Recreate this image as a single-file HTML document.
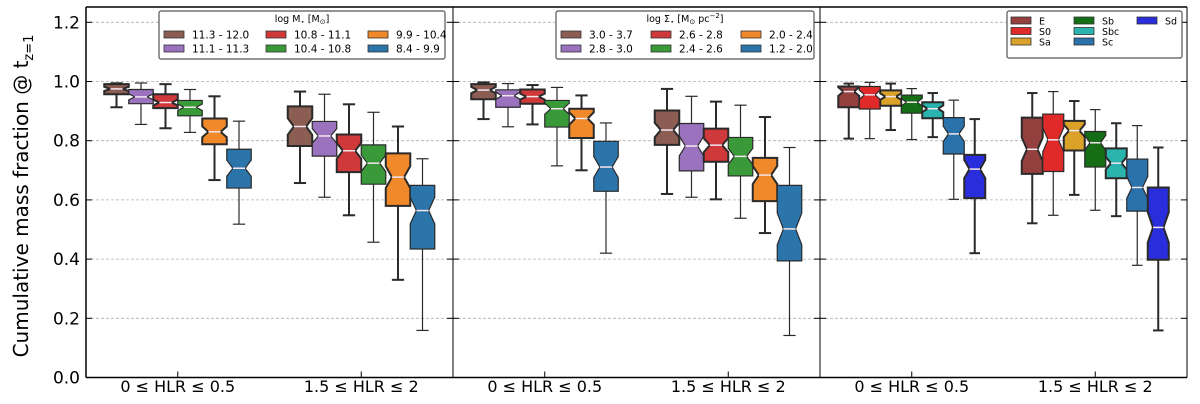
<!DOCTYPE html>
<html><head><meta charset="utf-8"><style>
html,body{margin:0;padding:0;background:#fff;width:1200px;height:404px;overflow:hidden}
svg{display:block;font-family:"DejaVu Sans","Liberation Sans",sans-serif}
</style></head><body>
<svg id="chart" width="1200" height="404" viewBox="0 0 1200 404" xmlns="http://www.w3.org/2000/svg"></svg>
<script>
// ---- data ----
const groupLabels = ["0 \u2264 HLR \u2264 0.5", "1.5 \u2264 HLR \u2264 2"];
const yTicks = [0.0, 0.2, 0.4, 0.6, 0.8, 1.0, 1.2];
const massLabels = ["11.3 - 12.0","11.1 - 11.3","10.8 - 11.1","10.4 - 10.8","9.9 - 10.4","8.4 - 9.9"];
const densLabels = ["3.0 - 3.7","2.8 - 3.0","2.6 - 2.8","2.4 - 2.6","2.0 - 2.4","1.2 - 2.0"];
const typeLabels = ["E","S0","Sa","Sb","Sbc","Sc","Sd"];
// each entry: [whisker low, q1, median, q3, whisker high]
const massG1 = [[0.913,0.957,0.975,0.991,0.994],[0.855,0.925,0.948,0.973,0.995],[0.842,0.910,0.929,0.957,0.991],[0.828,0.884,0.913,0.936,0.973],[0.667,0.788,0.830,0.875,0.950],[0.518,0.640,0.707,0.771,0.866]];
const massG2 = [[0.657,0.782,0.848,0.916,0.966],[0.609,0.748,0.816,0.865,0.957],[0.548,0.694,0.766,0.821,0.923],[0.457,0.653,0.724,0.786,0.896],[0.330,0.580,0.677,0.757,0.848],[0.159,0.434,0.564,0.649,0.739]];
const densG1 = [[0.873,0.940,0.971,0.991,0.997],[0.847,0.913,0.952,0.972,0.993],[0.855,0.925,0.949,0.973,0.988],[0.715,0.846,0.908,0.936,0.980],[0.700,0.809,0.875,0.908,0.953],[0.420,0.629,0.711,0.798,0.860]];
const densG2 = [[0.620,0.786,0.836,0.902,0.975],[0.609,0.698,0.782,0.858,0.950],[0.602,0.729,0.785,0.841,0.932],[0.538,0.681,0.747,0.811,0.920],[0.488,0.596,0.684,0.742,0.880],[0.142,0.394,0.502,0.649,0.777]];
const typeG1 = [[0.807,0.913,0.966,0.983,0.993],[0.807,0.907,0.955,0.983,0.997],[0.836,0.918,0.949,0.970,0.993],[0.804,0.893,0.930,0.954,0.976],[0.812,0.876,0.908,0.930,0.961],[0.602,0.755,0.823,0.878,0.937],[0.420,0.606,0.704,0.752,0.873]];
const typeG2 = [[0.521,0.688,0.771,0.878,0.961],[0.548,0.696,0.803,0.890,0.966],[0.617,0.767,0.834,0.867,0.934],[0.565,0.711,0.793,0.831,0.905],[0.545,0.673,0.724,0.774,0.859],[0.379,0.562,0.642,0.738,0.851],[0.159,0.398,0.507,0.642,0.777]];

const sixColors = ["#8c5d52","#9a72bd","#d0393a","#3a9a3a","#f0892a","#2c75ab"];
const typeColors = ["#93403f","#e02a2a","#dba22a","#156e15","#2bb3ad","#2a72ab","#2a2ddb"];

const NS = "http://www.w3.org/2000/svg";
const svg = document.getElementById("chart");
function mk(tag, attrs, parent){const e=document.createElementNS(NS,tag);for(const k in attrs)e.setAttribute(k,attrs[k]);(parent||svg).appendChild(e);return e;}

const plotTop = 7, plotBottom = 377.5;
function y(v){ return 377.5 - v*296; }

const panels = [
  {x0:86, x1:453, g:[massG1,massG2], colors:sixColors, name:"stellar-mass"},
  {x0:453, x1:820, g:[densG1,densG2], colors:sixColors, name:"surface-density"},
  {x0:820, x1:1187, g:[typeG1,typeG2], colors:typeColors, name:"morphology"}
];

panels.forEach((p,pi)=>{
  const W = p.x1-p.x0;
  const pg = mk("g",{});
  
  
  yTicks.forEach(t=>{
    if(t===0) return;
    const gl = mk("line",{x1:p.x0,x2:p.x1,y1:y(t),y2:y(t),stroke:"#b0b0b0","stroke-width":0.8,"stroke-dasharray":"3,2"},pg);
    
    
    mk("line",{x1:p.x0,x2:p.x0+6,y1:y(t),y2:y(t),stroke:"#000","stroke-width":1},pg);
    mk("line",{x1:p.x1-6,x2:p.x1,y1:y(t),y2:y(t),stroke:"#000","stroke-width":1},pg);
  });
  p.g.forEach((grp,gi)=>{
    const center = p.x0 + W*(gi===0?0.25:0.75);
    const total = 147;
    const bw = total/grp.length;
    const start = center - total/2;
    mk("line",{x1:center,x2:center,y1:plotBottom,y2:plotBottom-6,stroke:"#000","stroke-width":1},pg);
    const lbl = mk("text",{x:center,y:392,"text-anchor":"middle","font-size":16,fill:"#000"},pg);
    lbl.textContent = groupLabels[gi];
    
    
    grp.forEach((s,bi)=>{
      const [lo,q1,md,q3,hi] = s;
      const xl = start+bi*bw, xr = xl+bw, xc = xl+bw/2;
      const b = mk("g",{},pg);
      
      
      const lw = (bi%2===0)?2:1.2;
      mk("line",{x1:xc,x2:xc,y1:y(hi),y2:y(q3),stroke:"#2a2a2a","stroke-width":lw},b);
      mk("line",{x1:xc,x2:xc,y1:y(q1),y2:y(lo),stroke:"#2a2a2a","stroke-width":lw},b);
      mk("line",{x1:xc-bw*0.25,x2:xc+bw*0.25,y1:y(hi),y2:y(hi),stroke:"#2a2a2a","stroke-width":lw},b);
      mk("line",{x1:xc-bw*0.25,x2:xc+bw*0.25,y1:y(lo),y2:y(lo),stroke:"#2a2a2a","stroke-width":lw},b);
      const n = 0.21*(q3-q1);
      const nu = Math.min(md+n,q3), nl = Math.max(md-n,q1);
      const ins = bw*0.25;
      const pts = [[xl,y(q1)],[xr,y(q1)],[xr,y(nl)],[xr-ins,y(md)],[xr,y(nu)],[xr,y(q3)],[xl,y(q3)],[xl,y(nu)],[xl+ins,y(md)],[xl,y(nl)]];
      mk("polygon",{points:pts.map(q=>q.join(",")).join(" "),fill:p.colors[bi],stroke:"#2a2a2a","stroke-width":lw},b);
      mk("line",{x1:xl+ins,x2:xr-ins,y1:y(md),y2:y(md),stroke:"#f4e6ee","stroke-width":1.5},b);
    });
  });
});

mk("line",{x1:453,x2:453,y1:7,y2:377.5,stroke:"#000","stroke-width":1});
mk("line",{x1:820,x2:820,y1:7,y2:377.5,stroke:"#000","stroke-width":1});
mk("line",{x1:86,x2:1187,y1:7,y2:7,stroke:"#000","stroke-width":1.5});
mk("line",{x1:86,x2:1187,y1:377.5,y2:377.5,stroke:"#000","stroke-width":1.5});
mk("line",{x1:86,x2:86,y1:7,y2:377.5,stroke:"#000","stroke-width":1.5});
mk("line",{x1:1187,x2:1187,y1:7,y2:377.5,stroke:"#000","stroke-width":1});

yTicks.forEach(t=>{
  const tx = mk("text",{x:80,y:y(t)+6,"text-anchor":"end","font-size":17,fill:"#000"});
  tx.textContent = t.toFixed(1);
  
  
});
const yl = mk("text",{x:0,y:0,"text-anchor":"middle","font-size":20,fill:"#000",transform:"translate(28,196) rotate(-90)"});
yl.innerHTML = 'Cumulative mass fraction @ t<tspan font-size="13" dy="5">z=1</tspan>';



function legend(x,yTop,w,h,title,labels,colors,colW,name){
  const g = mk("g",{});
  
  
  mk("rect",{x:x,y:yTop,width:w,height:h,rx:2,fill:"#fff",stroke:"#555","stroke-width":1.2},g);
  labels.forEach((l,i)=>{
    let cc, rr, ex, ey, fs;
    if(title){ cc = Math.floor(i/2); rr = i%2; ex = x+5+cc*colW; ey = yTop+20+rr*14; fs = 10.5; }
    else { cc = Math.floor(i/3); rr = i%3; ex = x+4+cc*colW; ey = yTop+6+rr*10.5; fs = 9.5; }
    const e = mk("g",{},g);
    
    
    mk("rect",{x:ex,y:ey,width:20,height:7,fill:colors[i],stroke:"#333","stroke-width":0.8},e);
    const tt = mk("text",{x:ex+28,y:ey+7.5,"font-size":fs,fill:"#000"},e);
    tt.textContent = l;
  });
  if(title){
    const t = mk("text",{x:x+w/2,y:yTop+11,"text-anchor":"middle","font-size":9.5,fill:"#000"},g);
    t.innerHTML = title;
  }
}
legend(159,11,286,48,'log M<tspan font-size="7" dy="2">\u22c6</tspan><tspan dy="-2"> [M</tspan><tspan font-size="7" dy="2">\u2299</tspan><tspan dy="-2">]</tspan>',massLabels,sixColors,102,"mass-legend");
legend(556,11,258,48,'log \u03a3<tspan font-size="7" dy="2">\u22c6</tspan><tspan dy="-2"> [M</tspan><tspan font-size="7" dy="2">\u2299</tspan><tspan dy="-2"> pc</tspan><tspan font-size="7" dy="-4">\u22122</tspan><tspan dy="4">]</tspan>',densLabels,sixColors,90,"density-legend");
legend(1007,11,175,47,null,typeLabels,typeColors,63,"morphology-legend");
</script>
</body></html>
